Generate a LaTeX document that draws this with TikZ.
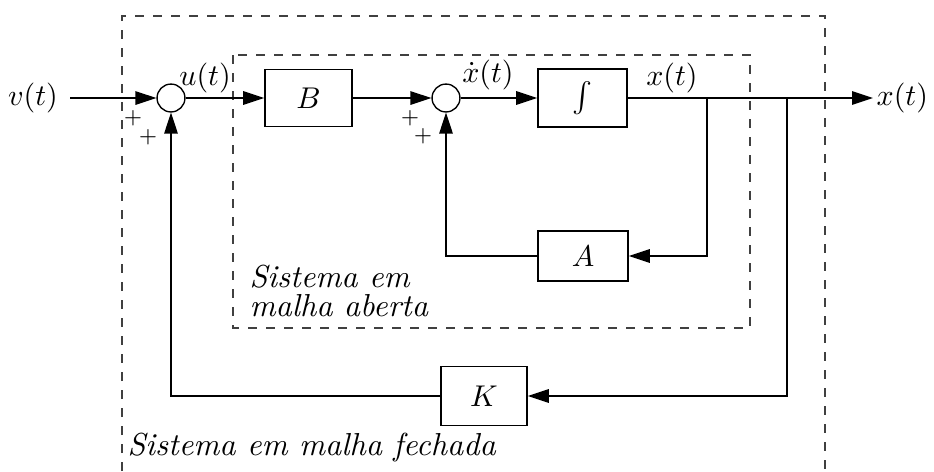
\documentclass[tikz,border=0pt]{standalone}
\usetikzlibrary{arrows.meta}
\begin{document}
\begin{tikzpicture}[x=0.3333pt,y=-0.3333pt,
  blk/.style={draw, line width=0.5pt, inner sep=0pt},
  sumc/.style={draw, circle, minimum size=9.3pt, inner sep=0pt, line width=0.45pt},
  sig/.style={line width=0.5pt},
  arr/.style={sig, -{Triangle[length=7pt,width=4.5pt]}},
  frame/.style={dashed, line width=0.4pt, black!75},
  pl/.style={font=\scriptsize, inner sep=0pt},
  lab/.style={inner sep=1pt},
  note/.style={inner sep=0pt, font=\fontsize{10.6pt}{9.8pt}\selectfont\itshape}]
\useasboundingbox (0,0) rectangle (934,471);
% dashed frames
\draw[frame] (122,471) -- (122,16) -- (825,16) -- (825,471);
\draw[frame] (233,55) rectangle (750,328);
% blocks
\node[sumc] (s1) at (171,98) {};
\node[sumc] (s2) at (446,98) {};
\node[blk, minimum width=29pt, minimum height=19pt] (B) at (308.5,98) {$B$};
\node[blk, minimum width=29.7pt, minimum height=19.3pt] (I) at (582.5,98) {$\int$};
\node[blk, minimum width=30pt, minimum height=16.7pt] (A) at (583,256) {$A$};
\node[blk, minimum width=28.7pt, minimum height=19.7pt] (K) at (484,396) {$K$};
% signals
\node[inner sep=1pt, anchor=center] (v) at (33,98) {$v(t)$};
\node[inner sep=1pt, anchor=west] (xo) at (873,98) {$x(t)$};
\coordinate (v0) at (70,98);
\coordinate (p1) at (707,98);
\coordinate (p2) at (787,98);
\draw[arr] (v0) -- (s1);
\draw[arr] (s1) -- (B);
\draw[arr] (B) -- (s2);
\draw[arr] (s2) -- (I);
\draw[arr] (I) -- (xo);
\draw[arr] (p1) |- (A);
\draw[arr] (p2) |- (K);
\draw[arr] (A) -| (s2);
\draw[arr] (K) -| (s1);
% labels
\node[lab] (u) at (205,78) {$u(t)$};
\node[lab] (xd) at (488,75) {$\dot{x}(t)$};
\node[lab] (x) at (672,78) {$x(t)$};
\node[pl] (pa) at (133,118) {$+$};
\node[pl] (pb) at (148,137) {$+$};
\node[pl] (pc) at (410,118) {$+$};
\node[pl] (pd) at (423,136) {$+$};
\node[note, anchor=west, align=left] (oa) at (249,291) {Sistema em\\malha aberta};
\node[note, anchor=west] (cf) at (127,448) {Sistema em malha fechada};
\end{tikzpicture}
\end{document}
